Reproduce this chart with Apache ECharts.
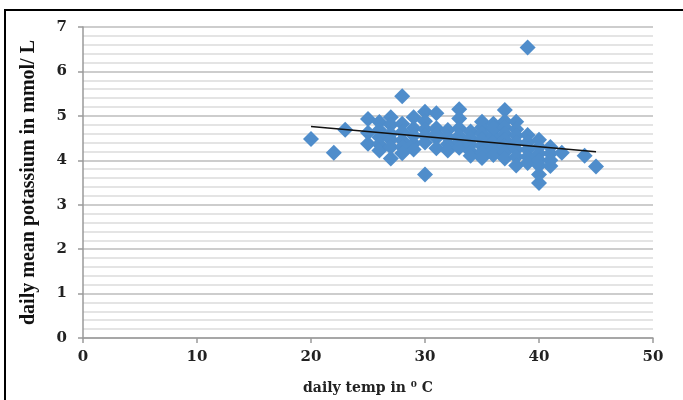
<!DOCTYPE html>
<html>
<head>
<meta charset="utf-8">
<script src="https://cdn.jsdelivr.net/npm/echarts@6/dist/echarts.min.js"></script>
<style>html,body{margin:0;padding:0;background:#fff}#c{width:683px;height:400px}</style>
</head>
<body>
<div id="c"></div>
<script>
// daily temperature (°C) and daily mean potassium (mmol/L)
const tempX = [
  20, 22, 23,
  25, 25, 25,
  26, 26, 26, 26, 26,
  27, 27, 27, 27, 27, 27,
  28, 28, 28, 28, 28, 28,
  29, 29, 29, 29, 29,
  30, 30, 30, 30, 30, 30,
  31, 31, 31, 31, 31,
  32, 32, 32, 32,
  33, 33, 33, 33, 33, 33,
  34, 34, 34, 34, 34,
  35, 35, 35, 35, 35, 35, 35,
  36, 36, 36, 36, 36, 36, 36,
  37, 37, 37, 37, 37, 37, 37, 37,
  38, 38, 38, 38, 38, 38, 38,
  39, 39, 39, 39, 39, 39,
  40, 40, 40, 40, 40, 40, 40,
  41, 41, 41, 41,
  42, 44, 45
];
const potassiumY = [
  4.48, 4.17, 4.69,
  4.93, 4.37, 4.62,
  4.86, 4.68, 4.52, 4.36, 4.22,
  4.97, 4.80, 4.60, 4.46, 4.30, 4.04,
  5.44, 4.82, 4.63, 4.45, 4.30, 4.16,
  4.97, 4.72, 4.38, 4.24, 4.56,
  5.09, 4.88, 4.70, 4.55, 4.40, 3.68,
  5.06, 4.72, 4.50, 4.27, 4.60,
  4.68, 4.52, 4.36, 4.22,
  5.15, 4.94, 4.72, 4.55, 4.42, 4.28,
  4.65, 4.50, 4.35, 4.20, 4.10,
  4.87, 4.74, 4.60, 4.46, 4.32, 4.18, 4.05,
  4.82, 4.68, 4.54, 4.40, 4.26, 4.12, 4.72,
  5.13, 4.88, 4.74, 4.60, 4.46, 4.32, 4.18, 4.04,
  4.87, 4.70, 4.56, 4.40, 4.24, 4.08, 3.88,
  6.54, 4.57, 4.40, 4.24, 4.08, 3.94,
  4.46, 4.30, 4.15, 4.00, 3.88, 3.68, 3.49,
  4.30, 4.15, 4.00, 3.87,
  4.17, 4.10, 3.86
];
// linear trend line end points
const trendX = [20, 45];
const trendY = [4.76, 4.19];

const xTicks = [0, 10, 20, 30, 40, 50];
const yTicks = [0, 1, 2, 3, 4, 5, 6, 7];

const pts = tempX.map((x, i) => [x, potassiumY[i]]);
const trend = trendX.map((x, i) => [x, trendY[i]]);

const chart = echarts.init(document.getElementById('c'), null, {renderer: 'canvas'});
const tickFont = {fontFamily: 'DejaVu Serif', fontWeight: 'bold', fontSize: 15, color: '#222'};
chart.setOption({
  animation: false,
  backgroundColor: '#fff',
  graphic: [{
    type: 'rect',
    shape: {x: 5, y: 10, width: 720, height: 420},
    style: {fill: 'none', stroke: '#000', lineWidth: 2},
    z: 100
  }],
  grid: {left: 83, right: 30, top: 27, bottom: 62, containLabel: false},
  xAxis: {
    type: 'value',
    min: xTicks[0], max: xTicks[xTicks.length - 1], interval: 10,
    name: 'daily temp in \u2070 C',
    nameLocation: 'middle', nameGap: 43,
    nameTextStyle: {fontFamily: 'DejaVu Serif', fontWeight: 'bold', fontSize: 14, color: '#222'},
    axisLine: {show: true, lineStyle: {color: '#9a9a9a', width: 1.5}},
    axisTick: {show: true, length: 5, lineStyle: {color: '#9a9a9a', width: 1.5}},
    axisLabel: Object.assign({margin: 12}, tickFont),
    splitLine: {show: false}
  },
  yAxis: {
    type: 'value',
    min: yTicks[0], max: yTicks[yTicks.length - 1], interval: 1,
    name: 'daily mean potassium in mmol/ L',
    nameLocation: 'middle', nameGap: 44,
    nameTextStyle: {fontFamily: 'Liberation Serif', fontWeight: 'bold', fontSize: 20, color: '#111'},
    axisLine: {show: true, lineStyle: {color: '#9a9a9a', width: 1.5}},
    axisTick: {show: true, length: 5, lineStyle: {color: '#9a9a9a', width: 1.5}},
    axisLabel: Object.assign({margin: 16}, tickFont),
    splitLine: {show: true, lineStyle: {color: '#bdbdbd', width: 1.5}},
    minorTick: {show: false, splitNumber: 5},
    minorSplitLine: {show: true, lineStyle: {color: '#dcdcdc', width: 1.5}}
  },
  series: [
    {
      type: 'scatter',
      data: pts,
      symbol: 'diamond',
      symbolSize: 16,
      itemStyle: {color: '#4f8dcb', opacity: 1},
      z: 2
    },
    {
      type: 'line',
      data: trend,
      showSymbol: false,
      symbol: 'none',
      lineStyle: {color: '#111', width: 1.5},
      z: 3
    }
  ]
});
</script>
</body>
</html>
